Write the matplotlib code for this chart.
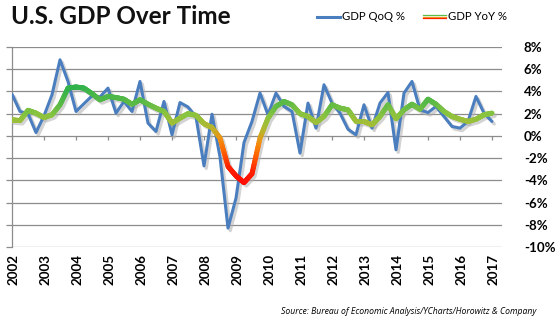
import numpy as np
import matplotlib
matplotlib.use('Agg')
import matplotlib.pyplot as plt
from matplotlib.collections import LineCollection
from matplotlib.colors import LinearSegmentedColormap, Normalize
from matplotlib.lines import Line2D
import matplotlib.transforms as mtransforms

# ---- data (quarterly, 2002Q1 .. 2017Q1) ----
years = [str(y) for y in range(2002, 2018)]
gdp_qoq = [3.75, 2.2, 2.0, 0.3,
           1.8, 3.7, 6.85, 4.9,
           2.2, 2.9, 3.6, 3.5,
           4.3, 2.05, 3.1, 2.2,
           4.9, 1.15, 0.4, 3.1,
           0.1, 3.0, 2.6, 1.7,
           -2.7, 1.95, -1.9, -8.3,
           -5.6, -0.6, 1.3, 3.85,
           1.9, 3.85, 2.65, 2.2,
           -1.55, 2.95, 0.7, 4.6,
           2.95, 2.05, 0.6, 0.1,
           2.8, 0.7, 2.95, 3.9,
           -1.25, 3.85, 4.9, 2.35,
           2.1, 2.65, 1.75, 0.85,
           0.7, 1.3, 3.55, 2.05,
           1.3]
gdp_yoy = [1.44, 1.38, 2.3, 2.05,
           1.65, 1.9, 2.8, 4.3,
           4.4, 4.3, 3.8, 3.25,
           3.55, 3.45, 3.3, 2.85,
           3.25, 2.85, 2.5, 2.2,
           1.15, 1.6, 2.0, 1.85,
           1.1, 0.75, -0.2, -2.75,
           -3.6, -4.2, -3.4, -0.2,
           1.6, 2.65, 3.1, 2.8,
           2.0, 1.75, 1.2, 1.75,
           2.8, 2.5, 2.35, 1.3,
           1.3, 1.0, 1.75, 2.8,
           1.55, 2.35, 2.85, 2.4,
           3.3, 2.85, 2.2, 1.75,
           1.5, 1.3, 1.5, 1.9,
           2.05]
y_ticks = [8, 6, 4, 2, 0, -2, -4, -6, -8, -10]

W, H = 555, 324
fig = plt.figure(figsize=(W / 100, H / 100), dpi=100)
ax = fig.add_axes([12 / W, 1 - 247 / H, 490 / W, 200 / H])

x = np.arange(len(gdp_qoq))
qoq = np.array(gdp_qoq)
yoy = np.array(gdp_yoy)

ax.set_xlim(0, 61.25)
ax.set_ylim(-10, 8)

grid_c = '#8c8c8c'
ax.set_yticks(y_ticks)
ax.set_yticklabels([f"{v}%" for v in y_ticks])
ax.yaxis.grid(True, color=grid_c, lw=0.9)
ax.set_axisbelow(True)
for s in ['top', 'right']:
    ax.spines[s].set_visible(False)
ax.spines['left'].set_color(grid_c)
ax.spines['left'].set_linewidth(0.9)
ax.spines['bottom'].set_position(('data', 0))
ax.spines['bottom'].set_visible(False)
ax.tick_params(axis='y', left=True, right=False, labelleft=False, labelright=True,
               length=4.3, width=0.9, color=grid_c, direction='out', pad=11.5)
for lab in ax.get_yticklabels():
    lab.set_fontweight('bold')
    lab.set_fontsize(9.6)
    lab.set_family('Lato')

tick_pos = np.arange(0, len(gdp_qoq), 4)
ax.set_xticks(tick_pos)
ax.tick_params(axis='x', bottom=True, labelbottom=False, length=3, width=0.9,
               color=grid_c, direction='out')
tr = mtransforms.blended_transform_factory(ax.transData, ax.transAxes)
for p, yl in zip(tick_pos, years):
    ax.text(p + 0.25, -0.035, yl, transform=tr, rotation=90, ha='center', va='top',
            fontsize=9.6, fontweight='bold', family='Lato')

# shadows
sh = mtransforms.offset_copy(ax.transData, fig, x=1.6, y=-1.8, units='points')
ax.plot(x, qoq, color='#b0b0b0', lw=2.4, alpha=0.55, transform=sh, zorder=2,
        solid_joinstyle='round', solid_capstyle='round')
ax.plot(x, yoy, color='#b0b0b0', lw=3.6, alpha=0.55, transform=sh, zorder=3,
        solid_joinstyle='round', solid_capstyle='round')

# QoQ
ax.plot(x, qoq, color='#4a7ebf', lw=2.2, zorder=4, solid_joinstyle='round',
        solid_capstyle='round')

# YoY gradient
cmap = LinearSegmentedColormap.from_list('gdp', [
    (0.0, '#ff0800'), (0.17, '#ff2200'), (0.33, '#ff6400'), (0.45, '#f39010'),
    (0.55, '#c0b028'), (0.61, '#a8bc34'), (0.72, '#88c440'), (0.83, '#5cba46'),
    (1.0, '#2eb24b')])
norm = Normalize(-4.5, 4.5)
n = 12
xs, ys = [], []
for i in range(len(x) - 1):
    t = np.linspace(0, 1, n, endpoint=False)
    xs.extend(x[i] + t * (x[i + 1] - x[i]))
    ys.extend(yoy[i] + t * (yoy[i + 1] - yoy[i]))
xs.append(x[-1]); ys.append(yoy[-1])
xs = np.array(xs); ys = np.array(ys)
pts = np.column_stack([xs, ys]).reshape(-1, 1, 2)
segs = np.concatenate([pts[:-1], pts[1:]], axis=1)
mid = (ys[:-1] + ys[1:]) / 2
lc = LineCollection(segs, colors=cmap(norm(mid)), linewidths=3.6, zorder=5,
                    capstyle='round', joinstyle='round')
ax.add_collection(lc)

# title
fig.text(11 / W, 1 - 17 / H, "U.S. GDP Over Time", fontsize=17.5, fontweight='bold',
         va='center', ha='left', family='Lato', color='#111111')

# legend
ly = 1 - 16.5 / H
fig.add_artist(Line2D([317 / W, 340 / W], [ly, ly], color='#4a7ebf', lw=2.2,
                      transform=fig.transFigure))
fig.text(342 / W, ly, "GDP QoQ %", fontsize=8.2, va='center', ha='left', family='Lato')
for dy, c in [(1.2, '#5cba46'), (0.0, '#f0a020'), (-1.2, '#ff2000')]:
    fig.add_artist(Line2D([423 / W, 446 / W], [ly + dy / H, ly + dy / H], color=c,
                          lw=0.9, transform=fig.transFigure))
fig.text(448 / W, ly, "GDP YoY %", fontsize=8.2, va='center', ha='left', family='Lato')

# source
fig.text(536 / W, 1 - 312 / H,
         "Source: Bureau of Economic Analysis/YCharts/Horowitz & Company",
         fontsize=6.2, style='italic', ha='right', va='center', family='Open Sans')

fig.savefig('out.png', dpi=100)
